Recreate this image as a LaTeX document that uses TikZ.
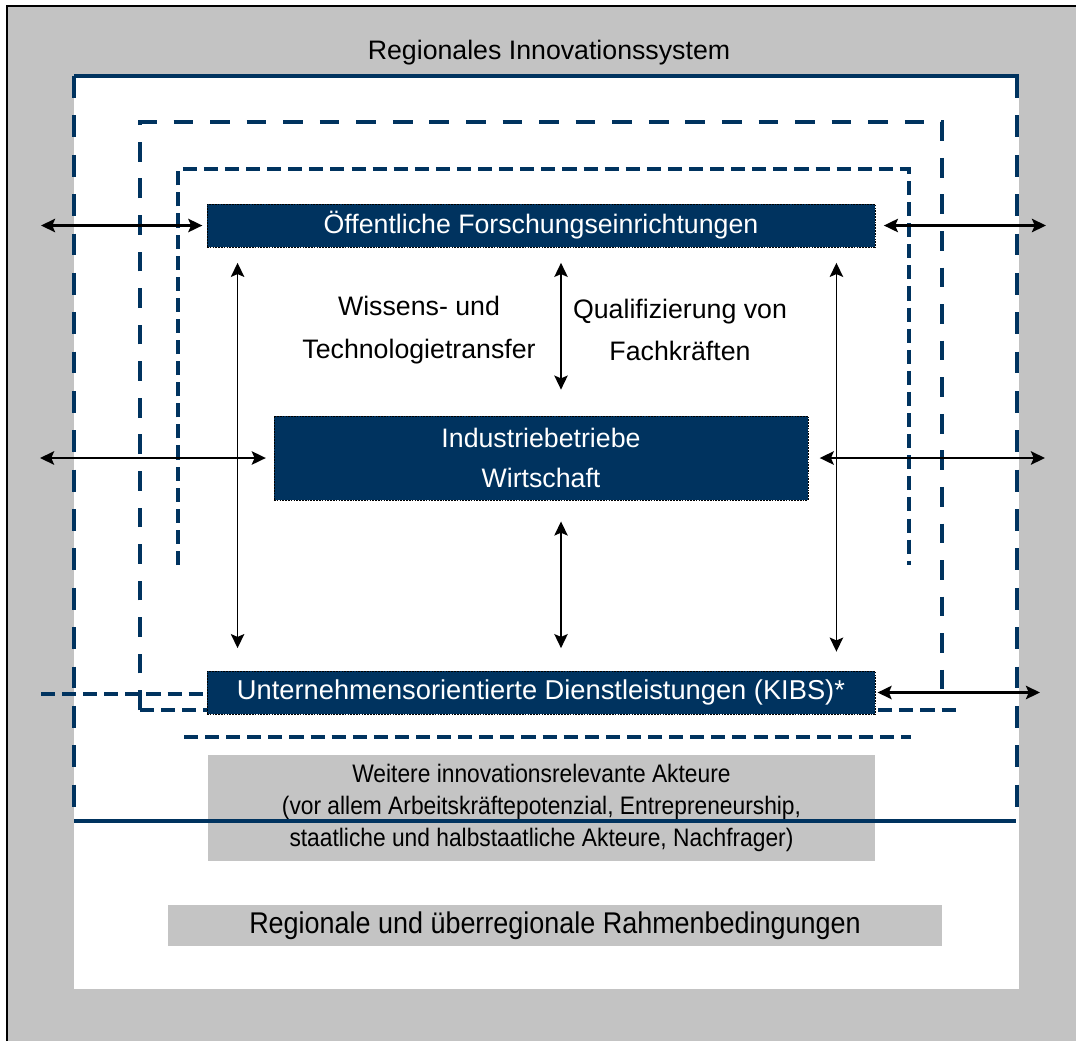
\documentclass[tikz,border=0pt]{standalone}
\usepackage{fontspec}
\setmainfont{Liberation Sans}
\newfontfamily\narrowfont{Liberation Sans}[FakeStretch=0.9]
\usepackage{tikz}
\usetikzlibrary{arrows.meta,calc}
\definecolor{navymain}{HTML}{00335F}
\definecolor{graybg}{HTML}{C3C3C3}
\definecolor{grayfill}{HTML}{C4C4C4}
\tikzset{every node/.append style={font=\fontsize{19}{30}\selectfont}}

\begin{document}
\begin{tikzpicture}[x=0.025cm,y=-0.025cm,>={Stealth[length=10pt,width=9.5pt,inset=2pt]},
  navybox/.style={fill=navymain,draw=black,line width=0.5pt,dash pattern=on 1.2pt off 0.8pt,
    text=white,inner sep=0pt},
  greybox/.style={fill=grayfill,inner sep=0pt,align=center},
  sysline/.style={navymain,line width=3.2pt},
  outerdash/.style={dash pattern=on 15.5pt off 12.5pt},
  middash/.style={dash pattern=on 14pt off 12pt},
  finedash/.style={line width=2.9pt,dash pattern=on 10pt off 5pt},
  harrow/.style={<->,line width=1.8pt},
  varrow/.style={<->,line width=1.3pt}]
  \useasboundingbox (0,0) rectangle (1076,1041);
  \fill[graybg] (7,6) rectangle (1076,1041);
  \draw[black,line width=1pt] (7,1041) -- (7,6) -- (1076,6);
  \fill[white] (74,75) rectangle (1019,989);

  \node[greybox,minimum width=16.675cm,minimum height=2.65cm,
    font=\narrowfont\fontsize{18}{23}\selectfont] (akteure) at (541.5,808)
    {Weitere innovationsrelevante Akteure\\(vor allem Arbeitskräftepotenzial, Entrepreneurship,\\staatliche und halbstaatliche Akteure, Nachfrager)};
  \node[greybox,minimum width=19.35cm,minimum height=1.025cm,
    font=\narrowfont\fontsize{21.3}{25}\selectfont] (rahmen) at (555,925.5)
    {Regionale und überregionale Rahmenbedingungen};

  \draw[sysline] (74,76) -- (1019,76);
  \draw[sysline,outerdash] (74,76) -- (74,821);
  \draw[sysline,outerdash] (1017,76) -- (1017,821);
  \draw[navymain,line width=2.4pt] (74,821) -- (1016,821);
  \draw[sysline,middash] (140,710) -- (140,122) -- (942,122) -- (942,703);
  \draw[sysline,finedash] (140,710) -- (960,710);
  \draw[sysline,finedash] (178,565) -- (178,169) -- (909,169) -- (909,565);
  \draw[sysline,finedash] (184,737) -- (911,737);
  \draw[sysline,finedash] (41,694) -- (207,694);

  \node (ris) at (549,53) {Regionales Innovationssystem};
  \node[navybox,minimum width=16.7cm,minimum height=1.075cm] (forschung) at (541,225.5)
    {Öffentliche Forschungseinrichtungen};
  \node[navybox,minimum width=13.35cm,minimum height=2.1cm,align=center,
    font=\fontsize{19}{28}\selectfont] (industrie) at (541,458) {Industriebetriebe\\Wirtschaft};
  \node[navybox,minimum width=16.7cm,minimum height=1.075cm,font=\fontsize{19.4}{24}\selectfont] (kibs) at (541,692.5)
    {Unternehmensorientierte Dienstleistungen (KIBS)*};
  \node[align=center] (wissen) at (419,330) {Wissens- und\\Technologietransfer};
  \node[align=center] (quali) at (680,330) {Qualifizierung von\\Fachkräften};

  \coordinate (forschungW) at (41,225.5);
  \coordinate (forschungE) at (1046,225.5);
  \coordinate (industrieW) at (40,458);
  \coordinate (industrieE) at (1045,458);
  \coordinate (kibsE) at (1040,692.5);
  \draw[harrow,shorten >=3pt] (forschungW) -- (forschung.west);
  \draw[harrow,shorten <=6pt] (forschung.east) -- (forschungE);
  \draw[harrow,shorten >=5.5pt] (industrieW) -- (industrie.west);
  \draw[harrow,shorten <=8pt] (industrie.east) -- (industrieE);
  \draw[harrow,shorten <=1.5pt] (kibs.east) -- (kibsE);

  \draw[varrow,shorten <=11pt,shorten >=16pt] ([xshift=0.775cm]forschung.south west) -- ([xshift=0.775cm]kibs.north west);
  \draw[varrow,shorten <=11pt,shorten >=18.5pt] ([xshift=0.5cm]forschung.south) -- ([xshift=0.5cm]industrie.north);
  \draw[varrow,shorten <=15pt,shorten >=16pt] ([xshift=0.5cm]industrie.south) -- ([xshift=0.5cm]kibs.north);
  \draw[varrow,shorten <=11pt,shorten >=13.5pt] ([xshift=-0.975cm]forschung.south east) -- ([xshift=-0.975cm]kibs.north east);
\end{tikzpicture}
\end{document}
